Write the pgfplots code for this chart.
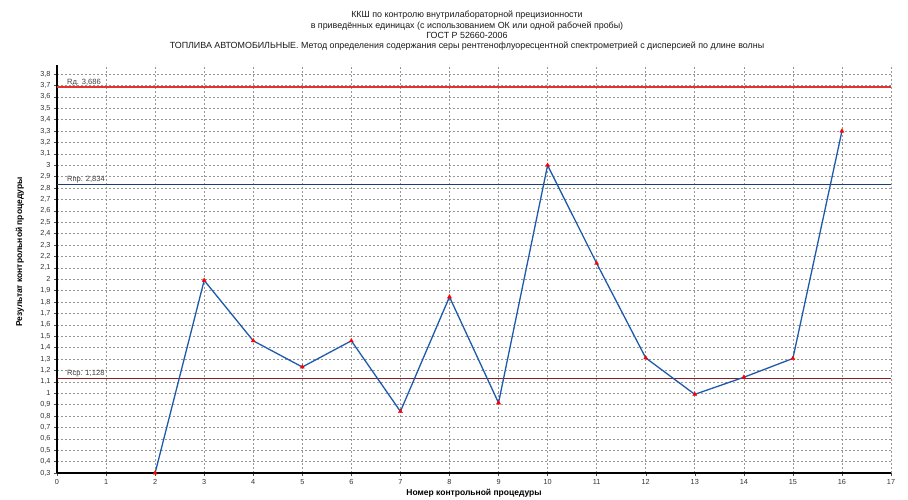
\documentclass[border=0pt]{standalone}
\usepackage{fontspec}
\setmainfont{Liberation Sans}
\usepackage{pgfplots}
\pgfplotsset{compat=1.18}
\definecolor{dataline}{RGB}{30,90,170}
\definecolor{rdline}{RGB}{228,50,50}
\definecolor{rprline}{RGB}{25,65,120}
\definecolor{rsrline}{RGB}{140,30,35}
\definecolor{gridc}{RGB}{150,150,150}
\begin{document}
\begin{tikzpicture}
\useasboundingbox (-57pt,-27pt) rectangle (851pt,473pt);
\node[align=center, font=\fontsize{8.9}{10.3}\selectfont, text=black!90] at (410pt,442pt)
{ККШ по контролю внутрилабораторной прецизионности\\
в приведённых единицах (с использованием ОК или одной рабочей пробы)\\
ГОСТ Р 52660-2006\\
ТОПЛИВА АВТОМОБИЛЬНЫЕ. Метод определения содержания серы рентгенофлуоресцентной спектрометрией с дисперсией по длине волны};
\begin{axis}[
  at={(0,0)}, anchor=south west, scale only axis,
  width=834pt, height=408pt,
  xmin=0, xmax=17, ymin=0.3, ymax=3.88,
  axis x line=bottom, axis y line=left,
  axis line style={-, line width=2.5pt, black},
  xtick={0,1,...,17},
  ytick={0.3,0.4,0.5,0.6,0.7,0.8,0.9,1,1.1,1.2,1.3,1.4,1.5,1.6,1.7,1.8,1.9,2,2.1,2.2,2.3,2.4,2.5,2.6,2.7,2.8,2.9,3,3.1,3.2,3.3,3.4,3.5,3.6,3.7,3.8},
  grid=major,
  major grid style={gridc, dash pattern=on 2pt off 2pt, line width=0.6pt},
  tick style={black!70, line width=0.4pt}, major tick length=3pt, tick align=outside,
  ticklabel style={font=\fontsize{7.3}{8}\selectfont, text=black!80},
  yticklabel style={/pgf/number format/.cd, use comma, fixed, precision=1, assume math mode=true},
  xticklabel style={/pgf/number format/assume math mode=true},
  xlabel={Номер контрольной процедуры},
  ylabel={Результат контрольной процедуры},
  xlabel style={font=\bfseries\fontsize{8.5}{9}\selectfont, at={(axis description cs:0.5,-0.049)}, anchor=center},
  ylabel style={font=\bfseries\fontsize{8.5}{9}\selectfont, at={(axis description cs:-0.0444,0.542)}, anchor=center},
]
\addplot[rdline, line width=1.3pt] coordinates {(0,3.686) (17,3.686)};
\addplot[rprline, line width=1.3pt] coordinates {(0,2.834) (17,2.834)};
\addplot[rsrline, line width=1.3pt] coordinates {(0,1.128) (17,1.128)};
\node[anchor=south west, inner sep=1pt, font=\fontsize{7.6}{8}\selectfont, text=black!75] at (axis cs:0.18,3.686) {Rд. 3,686};
\node[anchor=south west, inner sep=1pt, font=\fontsize{7.6}{8}\selectfont, text=black!75] at (axis cs:0.18,2.834) {Rпр. 2,834};
\node[anchor=south west, inner sep=1pt, font=\fontsize{7.6}{8}\selectfont, text=black!75] at (axis cs:0.18,1.128) {Rср. 1,128};
\addplot[dataline, line width=1.3pt, mark=triangle*, mark size=2.4pt,
  mark options={solid, fill=red, draw=red, line width=0.3pt}]
coordinates {
(2,0.30) (3,1.99) (4,1.46) (5,1.23) (6,1.46) (7,0.84) (8,1.845) (9,0.915)
(10,3.00) (11,2.14) (12,1.31) (13,0.99) (14,1.14) (15,1.305) (16,3.30)
};
\end{axis}
\end{tikzpicture}
\end{document}
